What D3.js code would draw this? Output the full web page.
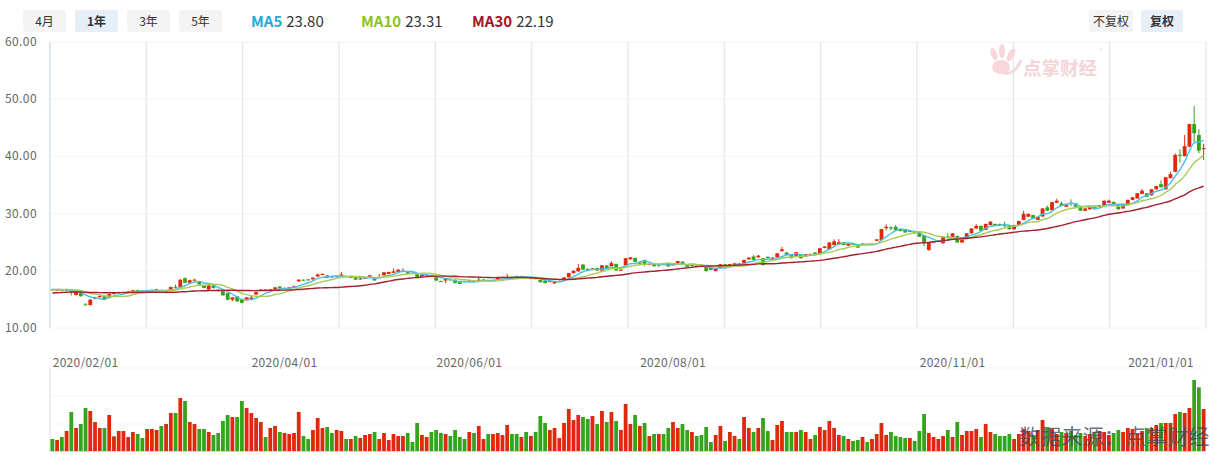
<!DOCTYPE html>
<html><head><meta charset="utf-8">
<script src="https://cdn.jsdelivr.net/npm/d3@7"></script>
<style>
body{margin:0;background:#fff;}
svg{display:block;font-family:"Microsoft YaHei","Noto Sans CJK SC","Noto Sans",sans-serif;}
</style>
</head><body>
<svg id="c" width="1215" height="455"></svg>
<script>
// ---------- data ----------
const opens = [16.75,16.6,16.72,16.55,16.7,15.75,16.1,14.12,14.0,15.1,
15.4,15.55,15.25,15.95,16.1,16.2,16.25,16.4,16.6,16.55,
16.45,16.55,16.6,16.65,16.15,16.7,17.2,17.1,18.7,17.9,
18.4,18.15,17.45,16.7,17.45,16.7,16.4,16.1,14.95,15.55,
14.95,14.85,14.9,15.85,16.55,16.75,16.6,16.7,17.25,16.9,
17.0,17.15,18.15,18.45,18.5,18.5,19.0,19.3,19.2,19.0,
18.9,19.1,19.1,18.85,18.85,18.5,18.65,18.95,18.9,18.75,
19.2,19.45,19.65,19.8,19.8,19.9,19.65,19.5,19.0,19.15,
19.2,19.0,18.2,18.3,18.5,18.45,18.15,18.2,18.2,18.25,
18.3,18.35,18.3,18.25,18.45,18.8,18.85,18.95,19.1,19.0,
18.95,18.7,18.7,18.45,18.3,18.1,17.8,18.1,18.3,18.85,
19.6,19.9,21.1,20.35,20.3,20.5,20.05,20.95,20.8,21.2,
20.1,20.95,22.0,22.25,21.3,21.9,21.05,21.15,20.95,21.3,
21.3,21.05,21.3,21.6,21.15,20.9,20.95,20.95,20.7,20.55,
19.95,20.45,21.15,20.85,21.05,21.3,21.05,22.0,22.5,22.35,
22.2,22.45,22.0,22.35,23.45,23.2,22.9,22.45,22.9,22.5,
22.65,23.2,22.9,24.0,23.75,24.5,24.65,25.0,24.4,24.7,
24.6,24.5,24.7,24.6,25.25,25.35,27.45,27.6,27.7,27.3,
27.3,26.9,26.95,26.7,26.2,23.65,24.95,25.15,24.8,26.0,
25.95,26.1,24.95,25.7,26.55,27.4,27.85,27.15,28.0,28.2,
28.2,28.1,28.0,27.25,28.0,28.9,29.45,29.75,28.9,29.5,
31.1,30.6,31.9,31.8,31.2,31.9,31.8,31.2,30.5,30.75,
31.2,31.2,31.35,31.9,32.05,31.45,30.9,31.5,32.4,32.65,
33.45,33.55,33.2,34.25,35.15,34.25,36.2,37.3,40.3,40.05,
41.7,45.65,43.75,41.3];

const closes = [16.65,16.72,16.6,16.8,16.15,16.4,15.55,14.05,14.95,15.35,
15.6,15.0,15.95,16.12,16.25,16.3,16.35,16.6,16.5,16.45,
16.55,16.65,16.75,16.5,16.4,17.15,17.05,18.45,17.9,18.35,
18.45,17.6,17.0,17.45,17.0,16.5,15.7,14.95,15.35,14.65,
14.4,15.35,15.35,16.3,16.7,16.6,16.75,17.1,16.9,17.0,
17.1,17.3,18.45,18.3,18.4,18.8,19.35,19.45,18.75,18.9,
19.05,19.35,18.95,18.95,18.45,18.65,18.75,19.2,18.3,18.9,
19.75,19.8,19.9,20.2,20.0,19.5,19.55,18.75,19.3,19.25,
19.05,18.3,18.1,18.6,18.4,17.85,17.7,18.1,18.3,18.15,
18.45,18.45,18.15,18.35,18.85,18.9,18.95,18.85,19.0,19.05,
18.85,18.8,18.6,18.0,17.85,18.2,18.15,18.2,18.85,19.6,
20.0,20.5,20.2,20.1,20.4,20.05,20.95,20.4,21.35,20.05,
20.2,22.2,22.35,21.55,21.45,21.05,21.2,20.8,21.1,21.1,
20.75,21.3,21.7,21.15,20.7,21.05,20.85,20.85,19.95,20.15,
20.45,21.15,20.75,21.15,21.3,21.05,21.9,22.3,21.9,22.65,
21.0,22.2,22.3,23.05,23.75,22.75,22.2,23.25,22.2,22.9,
22.9,22.75,23.95,24.25,24.95,25.15,25.0,24.5,24.7,24.55,
24.05,24.75,24.6,24.7,25.5,27.3,27.7,27.4,27.15,26.95,
26.7,27.0,26.55,25.95,24.8,24.95,25.15,25.27,25.95,25.85,
26.55,24.95,25.7,26.55,27.4,27.85,27.0,28.2,28.6,27.85,
28.1,27.85,27.25,28.0,28.7,29.95,29.95,29.15,29.45,30.9,
30.5,32.0,32.25,31.35,31.7,31.7,31.2,30.5,30.9,31.3,
30.75,31.45,32.25,32.25,31.45,30.75,31.5,32.4,32.85,33.55,
34.0,32.95,34.25,34.8,34.6,36.35,36.9,40.25,40.1,41.8,
45.65,44.05,41.0,41.45];

const highs = [16.85,16.8,16.78,16.85,16.75,16.45,16.15,14.35,15.05,15.45,
15.7,15.6,16.0,16.2,16.35,16.4,16.45,16.65,16.7,16.6,
16.65,16.75,16.85,16.7,16.5,17.25,17.6,18.5,18.85,18.45,
18.6,18.2,17.5,17.5,17.5,16.75,16.45,16.15,15.4,15.6,
15.0,15.4,15.6,16.35,16.8,16.8,16.85,17.15,17.3,17.1,
17.2,17.4,18.5,18.5,18.55,18.9,19.5,19.55,19.25,19.1,
19.2,19.8,19.15,19.05,18.9,18.75,18.9,19.3,18.95,19.45,
19.8,19.85,20.4,20.25,20.45,19.95,19.7,19.55,19.35,19.35,
19.25,19.05,18.3,18.65,18.65,18.5,18.2,18.25,18.4,18.3,
18.75,18.55,18.35,18.45,18.9,19.0,19.45,19.0,19.15,19.15,
19.0,18.9,18.75,18.5,18.35,18.3,18.2,18.3,18.9,19.65,
20.1,21.2,21.15,20.4,20.5,20.55,21.0,21.0,21.65,21.25,
20.3,22.25,22.4,22.3,21.6,21.95,21.3,21.2,21.2,21.35,
21.35,21.35,21.75,21.65,21.2,21.15,21.0,21.0,20.75,20.6,
20.5,21.2,21.2,21.2,21.35,21.35,21.95,22.35,22.75,22.75,
22.25,22.5,22.35,23.1,24.2,23.25,22.95,23.3,22.95,22.95,
23.0,23.25,24.0,24.3,25.0,25.5,25.55,25.05,24.75,24.75,
24.65,24.8,24.75,24.8,25.55,27.35,28.1,27.8,28.0,27.35,
27.35,27.05,27.0,26.75,26.25,25.0,25.2,25.35,26.0,26.6,
26.6,26.15,25.75,26.6,27.45,28.15,27.9,28.25,28.65,28.25,
28.25,28.6,28.05,28.05,28.75,30.5,30.0,29.8,29.5,30.95,
31.45,32.05,32.6,32.1,31.75,32.5,31.85,31.25,30.95,31.35,
31.25,31.5,32.3,32.45,32.1,31.5,31.55,32.45,32.9,33.6,
34.3,33.6,34.3,34.85,35.85,36.4,37.35,40.55,41.25,43.75,
45.7,48.8,44.75,42.2];

const lows = [16.55,16.55,16.5,16.5,15.7,15.7,15.5,14.0,13.95,15.0,
15.3,14.95,15.2,15.85,16.0,16.1,16.2,16.3,16.4,16.35,
16.4,16.45,16.5,16.4,16.05,16.65,16.95,17.05,17.85,17.8,
18.3,17.5,16.95,16.6,16.9,16.4,15.65,14.85,14.7,14.6,
14.3,14.8,14.85,15.8,16.45,16.5,16.5,16.65,16.85,16.8,
16.9,17.1,18.1,18.2,18.3,18.45,18.95,19.25,18.7,18.8,
18.85,19.0,18.9,18.8,18.4,18.45,18.55,18.9,18.25,18.7,
19.15,19.4,19.6,19.75,19.75,19.45,19.45,18.7,18.95,19.1,
18.95,18.25,18.05,17.85,18.3,17.8,17.65,18.0,18.1,18.1,
18.25,18.3,18.1,18.2,18.4,18.75,18.8,18.8,18.95,18.95,
18.8,18.65,18.55,17.95,17.8,18.05,17.75,18.05,18.25,18.8,
19.55,19.85,20.15,20.0,20.2,20.0,20.0,20.35,20.75,20.0,
20.05,20.9,21.95,21.5,21.1,20.8,20.95,20.75,20.7,21.05,
20.7,21.0,21.25,21.1,20.65,20.85,20.8,20.75,19.85,20.1,
19.9,20.4,20.7,20.8,21.0,21.0,21.0,21.95,21.85,22.3,
20.95,22.15,21.95,22.3,23.3,22.7,22.15,22.4,22.15,22.45,
22.6,22.7,22.85,23.95,23.7,24.45,24.6,24.45,24.35,24.5,
24.0,24.45,24.55,24.55,25.2,25.3,27.1,27.1,27.1,26.9,
26.65,26.85,26.5,25.9,24.3,23.5,24.9,25.1,24.75,25.6,
25.9,24.9,24.9,25.65,26.5,27.35,26.95,27.1,27.95,27.8,
28.05,27.45,27.2,27.2,27.95,28.85,29.4,29.1,28.85,29.45,
30.45,30.55,31.85,31.3,31.15,31.3,31.15,30.45,30.45,30.7,
30.7,31.15,31.3,31.85,31.4,30.7,30.85,31.45,32.35,32.6,
33.4,32.9,33.15,34.2,34.55,34.2,36.15,37.25,38.9,40.0,
41.6,42.3,40.55,39.4];

const volumes = [36,33,42,60,117,69,81,129,120,87,
69,69,108,44,60,60,42,57,51,39,
66,66,63,75,81,114,114,159,150,87,
81,66,66,57,48,54,90,108,102,102,
150,129,114,99,87,42,69,75,57,54,
51,54,117,45,36,63,99,69,72,54,
63,60,36,36,45,39,48,51,57,36,
54,33,51,45,45,54,27,84,48,42,
57,63,54,51,45,63,42,36,57,54,
75,36,51,51,54,48,78,51,51,42,
57,45,57,105,84,63,69,39,84,126,
93,108,102,96,105,81,120,87,117,90,
63,141,81,108,75,84,45,51,51,51,
69,87,69,81,63,57,45,48,72,27,
48,75,30,57,45,36,102,69,57,69,
99,60,33,78,90,57,57,57,63,57,
36,48,72,63,90,69,48,45,36,30,
33,42,27,36,51,84,48,57,45,42,
39,39,30,60,111,54,42,36,45,63,
42,87,48,60,60,66,42,81,57,51,
45,45,51,36,51,66,60,48,63,93,
72,66,51,57,54,60,48,54,45,51,
57,60,57,48,54,63,57,69,66,51,
60,69,69,78,84,84,84,111,117,114,
129,213,191,126];

// closes of the 29 sessions before the window (used for the moving averages)
const prevCloses = [15.4,15.5,15.45,15.6,15.55,15.7,15.65,15.8,15.75,15.9,
15.85,15.95,16.0,15.9,16.05,16.1,16.0,16.2,16.15,16.3,
16.5,16.6,16.7,16.75,16.8,16.7,16.85,16.8,16.75];

const tickIndex = [7,49,88,131,190,234];
const tickLabels = ["2020/02/01","2020/04/01","2020/06/01","2020/08/01","2020/11/01","2021/01/01"];
const priceTicks = [10,20,30,40,50,60];
const periodButtons = ["4月","1年","3年","5年"];
const adjButtons = ["不复权","复权"];
const maNames = ["MA5","MA10","MA30"];
const maPeriods = [5,10,30];
const maLegendValues = ["23.80","23.31","22.19"];

// ---------- styling ----------
const RED = "#e0290c", GREEN = "#33a51b";
const maColors = ["#4cbfe4","#a6cc57","#a4222e"];
const maTextColors = ["#23a8d5","#8dc21f","#a3141f"];

const svg = d3.select("#c");
const N = closes.length;
const left = 50, right = 1206;
const x = d3.scaleBand().domain(d3.range(N)).range([left, right]).paddingInner(0.2).paddingOuter(0.1);
const bw = x.bandwidth();
const cx = i => x(i) + bw / 2;
const y = d3.scaleLinear().domain([10, 60]).range([328, 42]);
const yv = d3.scaleLinear().domain([0, 240]).range([451, 371]);

// ---------- header ----------
const btnX = [23, 75, 127, 179];
periodButtons.forEach((t, i) => {
  svg.append("rect").attr("x", btnX[i]).attr("y", 10).attr("width", 43).attr("height", 22)
    .attr("rx", 2).attr("fill", i === 1 ? "#e6eef8" : "#f4f4f4");
  svg.append("text").attr("x", btnX[i] + 21.5).attr("y", 25.5).attr("text-anchor", "middle")
    .attr("font-size", 12).attr("font-weight", i === 1 ? "bold" : "normal").attr("fill", "#333").text(t);
});
const adjX = [1089, 1141], adjW = [44, 42];
adjButtons.forEach((t, i) => {
  svg.append("rect").attr("x", adjX[i]).attr("y", 10).attr("width", adjW[i]).attr("height", 22)
    .attr("rx", 2).attr("fill", i === 1 ? "#e6eef8" : "#f4f4f4");
  svg.append("text").attr("x", adjX[i] + adjW[i] / 2).attr("y", 25.5).attr("text-anchor", "middle")
    .attr("font-size", 12).attr("font-weight", i === 1 ? "bold" : "normal").attr("fill", "#333").text(t);
});
const legX = [251, 361, 472];
maNames.forEach((n, i) => {
  const t = svg.append("text").attr("x", legX[i]).attr("y", 27).attr("font-size", 15);
  t.append("tspan").attr("font-weight", "bold").attr("fill", maTextColors[i]).text(n);
  t.append("tspan").attr("fill", "#333").attr("dx", 4).text(maLegendValues[i]);
});

// ---------- grid ----------
const g = svg.append("g");
g.selectAll(".hg").data(priceTicks).join("line")
  .attr("x1", left).attr("x2", right).attr("y1", d => y(d)).attr("y2", d => y(d))
  .attr("stroke", "#f2f4f6").attr("stroke-width", 1);
const vgrid = d3.range(1, 13).map(k => left + k * (right - left) / 12);
g.selectAll(".vg").data(vgrid).join("line")
  .attr("x1", d => d).attr("x2", d => d).attr("y1", 42).attr("y2", 328)
  .attr("stroke", "#e1e8f0").attr("stroke-width", 1.3);
g.append("line").attr("x1", left).attr("x2", left).attr("y1", 42).attr("y2", 328)
  .attr("stroke", "#c9d7ea").attr("stroke-width", 1.2);

// y labels
g.selectAll(".yl").data(priceTicks).join("text")
  .attr("x", 5).attr("y", d => y(d) + 4).attr("font-size", 12).attr("fill", "#666")
  .attr("letter-spacing", 0.4).text(d => d.toFixed(2));

// watermark logo
const wm = svg.append("g").attr("opacity", 0.9);
const pink = "#f7d3d7";
wm.append("ellipse").attr("cx", 1001).attr("cy", 67).attr("rx", 9).attr("ry", 7).attr("fill", pink);
wm.append("ellipse").attr("cx", 994).attr("cy", 54).attr("rx", 3.2).attr("ry", 6.5).attr("transform", "rotate(-20 994 54)").attr("fill", pink);
wm.append("ellipse").attr("cx", 1002).attr("cy", 51).attr("rx", 3.2).attr("ry", 7).attr("fill", pink);
wm.append("ellipse").attr("cx", 1011).attr("cy", 55).attr("rx", 3.2).attr("ry", 7).attr("transform", "rotate(30 1011 55)").attr("fill", pink);
wm.append("path").attr("d", "M1004,73 Q1015,75 1021,60").attr("stroke", pink).attr("stroke-width", 3).attr("fill", "none");
wm.append("text").attr("x", 1023).attr("y", 75).attr("font-size", 18.5).attr("font-weight", "bold")
  .attr("fill", "#f5cfd3").text("点掌财经");
wm.append("text").attr("x", 1100).attr("y", 53).attr("font-size", 6).attr("fill", "#f5cfd3").text("®");

// ---------- candles ----------
const data = d3.range(N).map(i => ({i, o: opens[i], c: closes[i], h: highs[i], l: lows[i], v: volumes[i], up: closes[i] >= opens[i]}));
const cg = svg.append("g");
cg.selectAll(".wick").data(data).join("line")
  .attr("x1", d => cx(d.i)).attr("x2", d => cx(d.i)).attr("y1", d => y(d.h)).attr("y2", d => y(d.l))
  .attr("stroke", d => d.up ? RED : GREEN).attr("stroke-width", 1);
cg.selectAll(".body").data(data).join("rect")
  .attr("x", d => x(d.i)).attr("width", bw)
  .attr("y", d => y(Math.max(d.o, d.c)))
  .attr("height", d => Math.max(1, Math.abs(y(d.o) - y(d.c))))
  .attr("fill", d => d.up ? RED : GREEN);

// ---------- moving averages ----------
const full = prevCloses.concat(closes);
const off = prevCloses.length;
maPeriods.forEach((p, k) => {
  const pts = d3.range(N).map(i => {
    const s = full.slice(off + i - p + 1, off + i + 1);
    return [cx(i), y(d3.mean(s))];
  });
  svg.append("path").attr("d", d3.line().curve(d3.curveMonotoneX)(pts))
    .attr("fill", "none").attr("stroke", maColors[k]).attr("stroke-width", 1.4);
});

// ---------- x labels ----------
svg.selectAll(".xl").data(tickIndex).join("text")
  .attr("x", d => cx(d)).attr("y", 367).attr("text-anchor", "middle")
  .attr("font-size", 12).attr("fill", "#666").attr("letter-spacing", 0.3)
  .text((d, i) => tickLabels[i]);

// ---------- volume ----------
const vg = svg.append("g");
[368, 396, 424].forEach(yy => vg.append("line").attr("x1", left).attr("x2", right)
  .attr("y1", yy).attr("y2", yy).attr("stroke", "#f3f5f7"));
vg.append("line").attr("x1", left).attr("x2", left).attr("y1", 368).attr("y2", 451)
  .attr("stroke", "#dde5ee").attr("stroke-width", 1.2);
vg.selectAll(".vb").data(data).join("rect")
  .attr("x", d => x(d.i)).attr("width", bw)
  .attr("y", d => yv(d.v)).attr("height", d => yv(0) - yv(d.v))
  .attr("fill", d => d.up ? RED : GREEN);
vg.append("line").attr("x1", left).attr("x2", right).attr("y1", 451.5).attr("y2", 451.5)
  .attr("stroke", "#c9d7ea").attr("stroke-width", 1.2);

// bottom watermark
svg.append("text").attr("x", 1019).attr("y", 444).attr("font-size", 21)
  .attr("fill", "#3e4a5c").attr("fill-opacity", 0.8).attr("letter-spacing", 0.2)
  .text("数据来源：点掌财经");
</script>
</body></html>
